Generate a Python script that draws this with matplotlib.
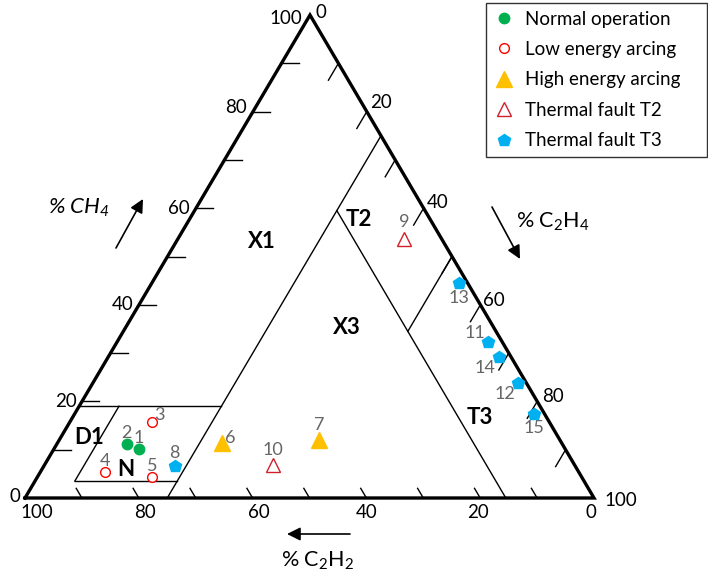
import numpy as np
import matplotlib.pyplot as plt
from matplotlib.lines import Line2D

plt.rcParams['font.family'] = ['Lato', 'DejaVu Sans']
plt.rcParams['mathtext.fontset'] = 'custom'
plt.rcParams['mathtext.rm'] = 'Lato'
plt.rcParams['mathtext.it'] = 'Lato:italic'
plt.rcParams['mathtext.default'] = 'regular'

# gas percentages: % CH4 and % C2H4 (C2H2 is the rest)
normal_ids = ['1', '2']
normal_ch4 = [10.1, 11.1]
normal_c2h4 = [14.9, 12.3]

low_ids = ['3', '4', '5']
low_ch4 = [15.7, 5.3, 4.4]
low_c2h4 = [14.4, 11.4, 20.2]

high_ids = ['6', '7']
high_ch4 = [11.3, 12.0]
high_c2h4 = [28.9, 45.7]

t2_ids = ['9', '10']
t2_ch4 = [53.6, 6.8]
t2_c2h4 = [39.8, 40.2]

t3_ids = ['8', '11', '12', '13', '14', '15']
t3_ch4 = [6.6, 32.2, 23.9, 44.6, 29.1, 17.4]
t3_c2h4 = [23.0, 65.3, 74.6, 54.0, 68.7, 80.7]

# zone boundaries (% CH4, % C2H4, % C2H2)
c0 = 15.5
zone_lines = [
    [(19, 0, 81), (19, 25, 56)],
    [(3.5, 7, 89.5), (3.5, 25, 71.5)],
    [(3.5, 7, 89.5), (19, 7, 74)],
    [(0, 25, 75), (75, 25, 0)],
    [(75 - c0, 25, c0), (0, 100 - c0, c0)],
    [(50 - c0, 50, c0), (50, 50, 0)],
]

ticks = np.arange(10, 100, 10)
tick_labels = [0, 20, 40, 60, 80, 100]

# pixel positions of the three corners
LEFT = np.array([25.0, 498.0])    # 100 % C2H2
RIGHT = np.array([594.0, 498.0])  # 100 % C2H4
TOP = np.array([310.0, 15.0])     # 100 % CH4


def tern(ch4, c2h4, c2h2=None):
    ch4 = np.asarray(ch4, float)
    c2h4 = np.asarray(c2h4, float)
    if c2h2 is None:
        c2h2 = 100 - ch4 - c2h4
    c2h2 = np.asarray(c2h2, float)
    s = ch4 + c2h4 + c2h2
    x = (ch4 * TOP[0] + c2h4 * RIGHT[0] + c2h2 * LEFT[0]) / s
    y = (ch4 * TOP[1] + c2h4 * RIGHT[1] + c2h2 * LEFT[1]) / s
    return x, y


fig = plt.figure(figsize=(7.08, 5.79), dpi=100)
ax = fig.add_axes([0, 0, 1, 1])
ax.set_xlim(0, 708)
ax.set_ylim(579, 0)
ax.axis('off')

# outline
ox, oy = tern([0, 0, 100, 0], [0, 100, 0, 0], [100, 0, 0, 100])
ax.plot(ox, oy, color='black', lw=2.4, solid_joinstyle='miter', zorder=3)

for seg in zone_lines:
    sx, sy = tern(*zip(*seg))
    ax.plot(sx, sy, color='black', lw=1.0, zorder=2)

# ticks along each side
for t in ticks:
    # CH4 side (left): horizontal ticks
    x0, y0 = tern(t, 0, 100 - t)
    ax.plot([x0, x0 + 17], [y0, y0], color='black', lw=1.0)
    # C2H4 side (right): ticks parallel to the left side
    x0, y0 = tern(100 - t, t, 0)
    x1, y1 = tern(100 - t - 3.5, t, 3.5)
    ax.plot([x0, x1], [y0, y1], color='black', lw=1.0)
    # C2H2 side (bottom): ticks parallel to the right side
    x0, y0 = tern(0, 100 - t, t)
    x1, y1 = tern(2, 98 - t, t)
    ax.plot([x0, x1], [y0, y1], color='black', lw=1.0)

left_off = [(-5, -2), (-5, 0), (-5, 0), (-6, 0), (-6, -4), (-8, 4)]
right_off = [(6, -3), (3, -9), (3, -6), (3, -4), (5, -5), (10, 3)]
bottom_off = [(-3, 14), (-2, 14), (0, 14), (6, 14), (6, 14), (12, 14)]
for v, lo, ro, bo in zip(tick_labels, left_off, right_off, bottom_off):
    x0, y0 = tern(v, 0, 100 - v)
    ax.text(x0 + lo[0], y0 + lo[1], str(v), ha='right', va='center', fontsize=13.5)
    x0, y0 = tern(100 - v, v, 0)
    ax.text(x0 + ro[0], y0 + ro[1], str(v), ha='left', va='center', fontsize=13.5)
    x0, y0 = tern(0, 100 - v, v)
    ax.text(x0 + bo[0], y0 + bo[1], str(v), ha='center', va='center', fontsize=13.5)

# axis titles and arrows
ax.text(79, 208, '% CH$_4$', fontsize=16, style='italic', ha='center', va='center')
ax.text(553, 222, '% C$_2$H$_4$', fontsize=15.5, ha='center', va='center')
ax.text(317, 561, '% C$_2$H$_2$', fontsize=15.5, ha='center', va='center')
arrow = dict(arrowstyle='-|>,head_length=0.8,head_width=0.4', color='black', lw=1.2,
             shrinkA=0, shrinkB=0)
ax.annotate('', xy=(143, 199), xytext=(116, 248), arrowprops=arrow)
ax.annotate('', xy=(520, 259), xytext=(492, 207), arrowprops=arrow)
ax.annotate('', xy=(287, 534), xytext=(350, 534), arrowprops=arrow)

# zone names
for name, px, py in [('X1', 262, 242), ('T2', 359, 220), ('X3', 347, 328),
                     ('T3', 480, 417), ('D1', 89, 437), ('N', 126, 470)]:
    ax.text(px, py, name, fontsize=16, fontweight='bold', ha='center', va='center')

groups = [
    (normal_ids, normal_ch4, normal_c2h4,
     dict(marker='o', ms=7.5, mfc='#00B050', mec='#00B050'), 'Normal operation'),
    (low_ids, low_ch4, low_c2h4,
     dict(marker='o', ms=7, mfc='white', mec='#FF0000', mew=1.0), 'Low energy arcing'),
    (high_ids, high_ch4, high_c2h4,
     dict(marker='^', ms=11, mfc='#FFC000', mec='#FFC000'), 'High energy arcing'),
    (t2_ids, t2_ch4, t2_c2h4,
     dict(marker='^', ms=10, mfc='white', mec='#D0202A', mew=1.0), 'Thermal fault T2'),
    (t3_ids, t3_ch4, t3_c2h4,
     dict(marker='p', ms=9, mfc='#00B0F0', mec='#00B0F0'), 'Thermal fault T3'),
]

label_off = {'1': (0, 11), '2': (0, 11), '3': (8, 7), '4': (0, 11), '5': (0, 11),
             '6': (9, 5), '7': (0, 15), '8': (0, 13), '9': (0, 17), '10': (0, 15),
             '11': (-13, 9), '12': (-13, -11), '13': (0, -15), '14': (-14, -11),
             '15': (0, -14)}

handles = []
for ids, ch4, c2h4, style, name in groups:
    px, py = tern(ch4, c2h4)
    ax.plot(px, py, ls='none', zorder=4, **style)
    for i, xx, yy in zip(ids, px, py):
        ax.annotate(i, (xx, yy), xytext=label_off[i], textcoords='offset pixels',
                    ha='center', va='center', fontsize=13, color='#666666')
    handles.append(Line2D([], [], ls='none', label=name, **style))

leg = ax.legend(handles=handles, loc='upper left', mode='expand',
                bbox_to_anchor=(486 / 708, 0, 221 / 708, 1 - 3 / 579),
                fontsize=13.5, frameon=True, fancybox=False, edgecolor='black',
                borderaxespad=0, handlelength=1.1, handletextpad=0.6,
                labelspacing=0.72, borderpad=0.4)
leg.get_frame().set_linewidth(1.0)

fig.savefig('out.png', dpi=100)
